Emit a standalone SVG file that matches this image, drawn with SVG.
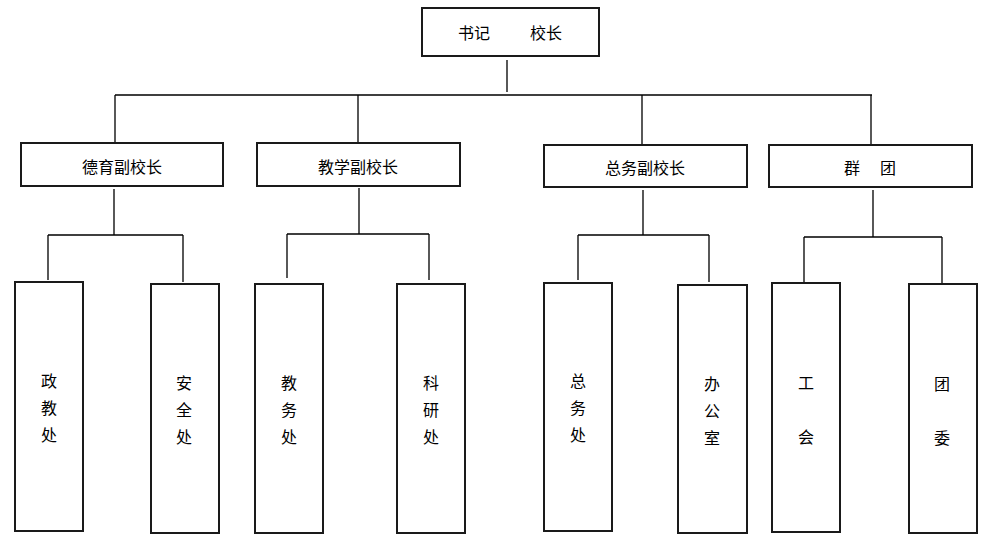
<svg xmlns="http://www.w3.org/2000/svg" width="989" height="539" viewBox="0 0 989 539">
<style>
.box{fill:#fff;stroke:#1a1a1a;stroke-width:2}
.ln{fill:none;stroke:#000;stroke-width:1.3}
text{font-family:"Noto Sans CJK SC","Noto Sans",sans-serif;font-size:16px;fill:#000;text-anchor:middle;dominant-baseline:central}
</style>
<rect width="989" height="539" fill="#fff"/>
<g id="connectors">
<path class="ln" d="M507,60V92M115,95H872M115,95V143M358,95V143M642,95V145M871,95V145"/>
<path class="ln" d="M114,189V235M48,235H183M48,235V280M183,235V282"/>
<path class="ln" d="M359,188V234M287,234H429M287,234V278M429,234V280"/>
<path class="ln" d="M643,190V235M578,235H709M578,235V280M709,235V282"/>
<path class="ln" d="M873,190V237M804,237H942M804,237V282M942,237V283"/>
</g>
<g id="top"><rect class="box" x="422" y="8" width="177" height="48"/><text x="474" y="32">书记</text><text x="546" y="32">校长</text></g>
<g id="deyu"><rect class="box" x="21" y="143" width="202" height="43"/><text x="122" y="166">德育副校长</text></g>
<g id="jiaoxue"><rect class="box" x="257" y="143" width="203" height="43"/><text x="358" y="166">教学副校长</text></g>
<g id="zongwu"><rect class="box" x="544" y="145" width="203" height="42"/><text x="645" y="167">总务副校长</text></g>
<g id="quntuan"><rect class="box" x="769" y="145" width="203" height="42"/><text x="852" y="167">群</text><text x="888" y="167">团</text></g>
<g id="zhengjiao"><rect class="box" x="15" y="282" width="68" height="249"/><text x="49" y="380">政</text><text x="49" y="407">教</text><text x="49" y="434">处</text></g>
<g id="anquan"><rect class="box" x="151" y="284" width="68" height="249"/><text x="184" y="382">安</text><text x="184" y="409">全</text><text x="184" y="436">处</text></g>
<g id="jiaowu"><rect class="box" x="255" y="284" width="68" height="249"/><text x="289" y="382">教</text><text x="289" y="409">务</text><text x="289" y="436">处</text></g>
<g id="keyan"><rect class="box" x="397" y="284" width="68" height="249"/><text x="431" y="382">科</text><text x="431" y="409">研</text><text x="431" y="436">处</text></g>
<g id="zongwuchu"><rect class="box" x="544" y="283" width="68" height="248"/><text x="578" y="380">总</text><text x="578" y="407">务</text><text x="578" y="434">处</text></g>
<g id="bangong"><rect class="box" x="678" y="285" width="69" height="248"/><text x="712" y="383">办</text><text x="712" y="410">公</text><text x="712" y="437">室</text></g>
<g id="gonghui"><rect class="box" x="772" y="283" width="68" height="249"/><text x="806" y="382">工</text><text x="806" y="436">会</text></g>
<g id="tuanwei"><rect class="box" x="909" y="284" width="68" height="249"/><text x="942" y="383">团</text><text x="942" y="437">委</text></g>
</svg>
